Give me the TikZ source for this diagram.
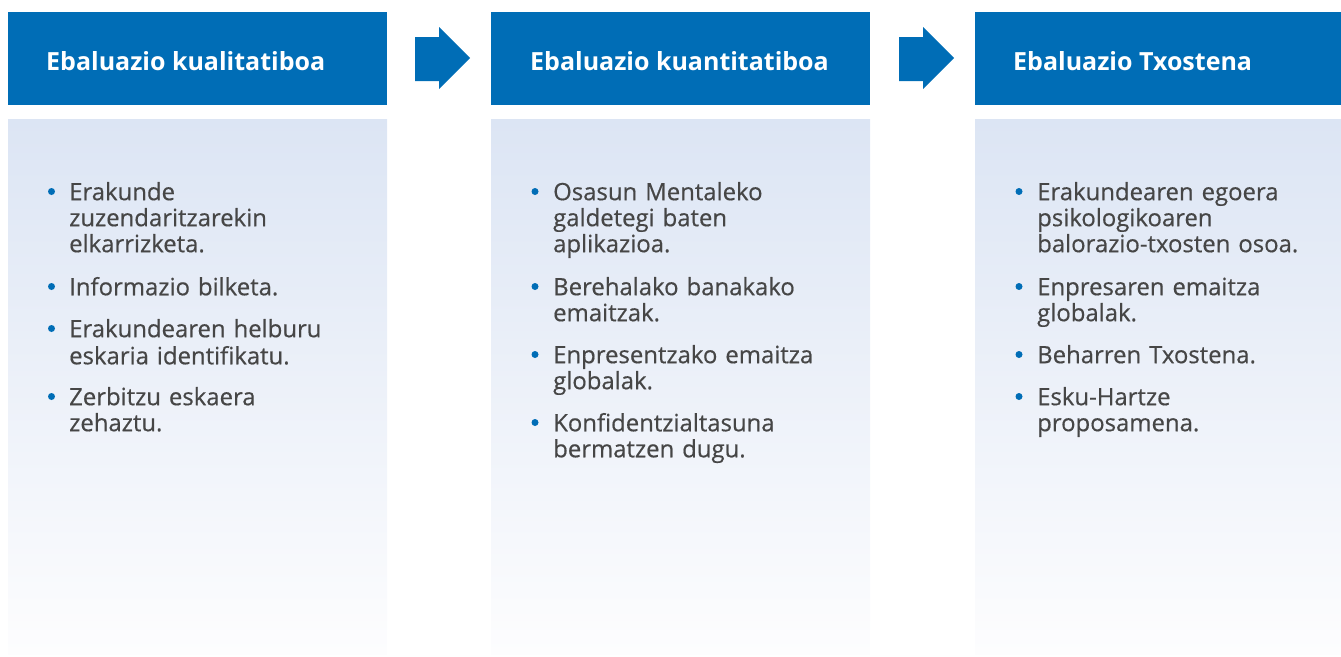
\documentclass[tikz,border=0pt]{standalone}
\usepackage{fontspec}
\setmainfont{Open Sans}
\newfontfamily\bodyfont[FakeBold=0.5]{Open Sans}
\definecolor{hblue}{HTML}{006DB6}
\definecolor{tgrey}{HTML}{464646}
\definecolor{gtop}{HTML}{DCE5F4}
\definecolor{gbot}{HTML}{FDFDFE}
\tikzset{
  headbox/.style={fill=hblue, draw=none, anchor=north west, minimum width=379pt, minimum height=93pt, inner sep=0pt},
  headtext/.style={anchor=base west, inner sep=0pt, text=white, font=\bfseries\fontsize{25}{30}\selectfont},
  bodybox/.style={draw=none, anchor=north west, minimum width=379pt, minimum height=535pt, inner sep=0pt, top color=gtop, bottom color=gbot},
  item/.style={anchor=north west, inner sep=0pt, text=tgrey, align=left, text width=330pt, font=\bodyfont\fontsize{23.9}{26}\selectfont},
  dot/.style={circle, fill=hblue, draw=none, inner sep=0pt, minimum size=7pt},
  blockarrow/.style={fill=hblue, draw=none}
}
\begin{document}
\begin{tikzpicture}[x=1pt,y=-1pt]
\useasboundingbox (0,0) rectangle (1341,656);
% columns
\node[bodybox] (c1) at (8,119) {};
\node[bodybox] (c2) at (491,119) {};
\node[bodybox, minimum width=366pt] (c3) at (975,119) {};
\node[headbox] (h1) at (8,12) {};
\node[headbox] (h2) at (491,12) {};
\node[headbox, minimum width=366pt] (h3) at (975,12) {};
\node[headtext] (t1) at (46,70) {Ebaluazio kualitatiboa};
\node[headtext] (t2) at (530,70) {Ebaluazio kuantitatiboa};
\node[headtext] (t3) at (1013,70) {Ebaluazio Txostena};
% arrows
\fill[blockarrow] (415,37) -- (439,37) -- (439,27) -- (470,58) -- (439,89) -- (439,81) -- (415,81) -- cycle;
\fill[blockarrow] (899,37) -- (923,37) -- (923,27) -- (954,58) -- (923,89) -- (923,81) -- (899,81) -- cycle;
% column 1
\node[dot] (d11) at (51.5,191.5) {};
\node[item] (i11) at (69,181.8) {\strut Erakunde\\zuzendaritzarekin\\elkarrizketa.};
\node[dot] (d12) at (51.5,286.5) {};
\node[item] (i12) at (69,276.8) {\strut Informazio bilketa.};
\node[dot] (d13) at (51.5,328.5) {};
\node[item] (i13) at (69,318.8) {\strut Erakundearen helburu\\eskaria identifikatu.};
\node[dot] (d14) at (51.5,396.5) {};
\node[item] (i14) at (69,386.8) {\strut Zerbitzu eskaera\\zehaztu.};
% column 2
\node[dot] (d21) at (535,191.5) {};
\node[item] (i21) at (553,181.8) {\strut Osasun Mentaleko\\galdetegi baten\\aplikazioa.};
\node[dot] (d22) at (535,286.5) {};
\node[item] (i22) at (553,276.8) {\strut Berehalako banakako\\emaitzak.};
\node[dot] (d23) at (535,354.5) {};
\node[item] (i23) at (553,344.8) {\strut Enpresentzako emaitza\\globalak.};
\node[dot] (d24) at (535,422.5) {};
\node[item] (i24) at (553,412.8) {\strut Konfidentzialtasuna\\bermatzen dugu.};
% column 3
\node[dot] (d31) at (1019,191.5) {};
\node[item] (i31) at (1037,181.8) {\strut Erakundearen egoera\\psikologikoaren\\balorazio-txosten osoa.};
\node[dot] (d32) at (1019,286.5) {};
\node[item] (i32) at (1037,276.8) {\strut Enpresaren emaitza\\globalak.};
\node[dot] (d33) at (1019,354.5) {};
\node[item] (i33) at (1037,344.8) {\strut Beharren Txostena.};
\node[dot] (d34) at (1019,396.5) {};
\node[item] (i34) at (1037,386.8) {\strut Esku-Hartze\\proposamena.};
\end{tikzpicture}
\end{document}
